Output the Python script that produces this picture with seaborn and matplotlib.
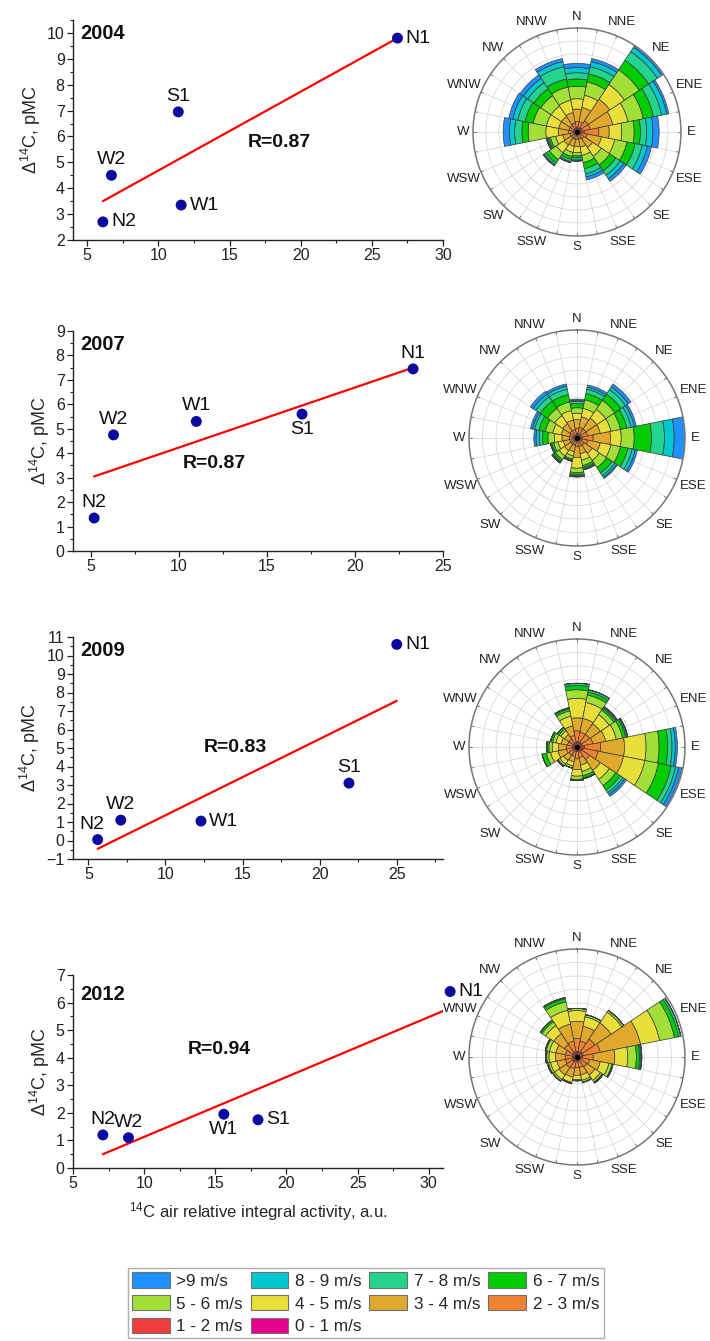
import numpy as np
import pandas as pd
import matplotlib
matplotlib.use("Agg")
import matplotlib.pyplot as plt
import seaborn as sns
from matplotlib.patches import Patch
from matplotlib.ticker import MultipleLocator

sns.set_theme(style="ticks")
plt.rcParams['font.family'] = ['Liberation Sans', 'DejaVu Sans']
plt.rcParams['mathtext.fontset'] = 'custom'
plt.rcParams['mathtext.rm'] = 'Liberation Sans'
plt.rcParams['mathtext.bf'] = 'Liberation Sans:bold'

# ---------------- scatter data ----------------
sites = ["N1", "N2", "W1", "W2", "S1"]
x2004 = [26.8, 6.1, 11.6, 6.7, 11.4]
y2004 = [9.8, 2.7, 3.35, 4.5, 6.95]
x2007 = [23.3, 5.2, 11.0, 6.3, 17.0]
y2007 = [7.45, 1.35, 5.3, 4.75, 5.6]
x2009 = [25.0, 5.6, 12.3, 7.1, 21.9]
y2009 = [10.6, 0.05, 1.05, 1.1, 3.1]
x2012 = [31.5, 7.1, 15.6, 8.9, 18.0]
y2012 = [6.4, 1.2, 1.95, 1.1, 1.75]

fit_x = {"2004": [6.1, 26.8], "2007": [5.2, 23.3], "2009": [5.6, 25.0], "2012": [7.1, 31.5]}
fit_y = {"2004": [3.5, 9.8], "2007": [3.05, 7.5], "2009": [-0.45, 7.55], "2012": [0.5, 5.8]}
r_text = {"2004": "R=0.87", "2007": "R=0.87", "2009": "R=0.83", "2012": "R=0.94"}

# ---------------- wind rose data ----------------
directions = ["N", "NNE", "NE", "ENE", "E", "ESE", "SE", "SSE",
              "S", "SSW", "SW", "WSW", "W", "WNW", "NW", "NNW"]
speed_bins = ["0 - 1 m/s", "1 - 2 m/s", "2 - 3 m/s", "3 - 4 m/s", "4 - 5 m/s",
              "5 - 6 m/s", "6 - 7 m/s", "7 - 8 m/s", "8 - 9 m/s", ">9 m/s"]
speed_colors = ["#E8008C", "#F03C3C", "#F08232", "#E0A92E", "#E8DF3A",
                "#A2E038", "#00CC00", "#22D48C", "#00C8D0", "#1E90FF"]

# rows: directions (N..NNW), columns: speed bins (0-1 .. >9), fraction of outer ring
rose2004 = [
    [0.01, 0.03, 0.06, 0.12, 0.10, 0.12, 0.07, 0.06, 0.05, 0.04],
    [0.01, 0.03, 0.06, 0.14, 0.12, 0.13, 0.08, 0.07, 0.05, 0.03],
    [0.01, 0.04, 0.08, 0.25, 0.17, 0.17, 0.11, 0.10, 0.05, 0.02],
    [0.01, 0.04, 0.08, 0.22, 0.15, 0.15, 0.10, 0.08, 0.05, 0.02],
    [0.01, 0.06, 0.14, 0.10, 0.12, 0.12, 0.06, 0.06, 0.06, 0.06],
    [0.01, 0.03, 0.06, 0.14, 0.13, 0.12, 0.08, 0.07, 0.05, 0.04],
    [0.01, 0.02, 0.05, 0.10, 0.10, 0.10, 0.07, 0.05, 0.04, 0.03],
    [0.01, 0.02, 0.04, 0.08, 0.08, 0.07, 0.06, 0.05, 0.03, 0.03],
    [0.01, 0.02, 0.04, 0.07, 0.06, 0.03, 0.02, 0.02, 0.01, 0.00],
    [0.01, 0.02, 0.04, 0.07, 0.06, 0.04, 0.03, 0.02, 0.01, 0.00],
    [0.01, 0.02, 0.04, 0.08, 0.09, 0.08, 0.04, 0.02, 0.01, 0.00],
    [0.01, 0.02, 0.04, 0.07, 0.07, 0.05, 0.02, 0.01, 0.01, 0.00],
    [0.01, 0.02, 0.05, 0.10, 0.12, 0.17, 0.06, 0.07, 0.05, 0.06],
    [0.01, 0.02, 0.05, 0.10, 0.12, 0.13, 0.08, 0.07, 0.05, 0.04],
    [0.01, 0.02, 0.05, 0.10, 0.12, 0.12, 0.08, 0.07, 0.05, 0.04],
    [0.01, 0.03, 0.05, 0.10, 0.12, 0.13, 0.08, 0.12, 0.05, 0.03],
]
rose2007 = [
    [0.01, 0.03, 0.05, 0.08, 0.06, 0.05, 0.04, 0.02, 0.01, 0.01],
    [0.01, 0.03, 0.06, 0.10, 0.08, 0.08, 0.06, 0.04, 0.02, 0.02],
    [0.01, 0.03, 0.06, 0.12, 0.10, 0.10, 0.07, 0.05, 0.03, 0.03],
    [0.01, 0.03, 0.06, 0.12, 0.10, 0.09, 0.06, 0.04, 0.03, 0.02],
    [0.01, 0.04, 0.10, 0.16, 0.10, 0.12, 0.16, 0.12, 0.09, 0.10],
    [0.01, 0.03, 0.06, 0.12, 0.10, 0.09, 0.07, 0.04, 0.03, 0.02],
    [0.01, 0.02, 0.05, 0.09, 0.08, 0.08, 0.06, 0.03, 0.02, 0.01],
    [0.01, 0.02, 0.05, 0.07, 0.06, 0.05, 0.02, 0.01, 0.01, 0.00],
    [0.01, 0.02, 0.05, 0.10, 0.10, 0.04, 0.02, 0.01, 0.01, 0.00],
    [0.01, 0.02, 0.04, 0.06, 0.04, 0.03, 0.01, 0.01, 0.00, 0.00],
    [0.01, 0.02, 0.04, 0.07, 0.06, 0.04, 0.02, 0.01, 0.01, 0.00],
    [0.01, 0.02, 0.04, 0.06, 0.05, 0.04, 0.02, 0.01, 0.00, 0.00],
    [0.01, 0.02, 0.04, 0.07, 0.07, 0.06, 0.05, 0.03, 0.03, 0.02],
    [0.01, 0.02, 0.04, 0.08, 0.08, 0.07, 0.06, 0.04, 0.02, 0.02],
    [0.01, 0.02, 0.05, 0.08, 0.09, 0.08, 0.08, 0.05, 0.03, 0.03],
    [0.01, 0.02, 0.05, 0.09, 0.09, 0.08, 0.07, 0.05, 0.03, 0.02],
]
rose2009 = [
    [0.01, 0.04, 0.10, 0.12, 0.18, 0.08, 0.04, 0.02, 0.00, 0.00],
    [0.01, 0.04, 0.09, 0.13, 0.15, 0.07, 0.03, 0.02, 0.00, 0.00],
    [0.01, 0.04, 0.09, 0.12, 0.10, 0.05, 0.02, 0.01, 0.01, 0.00],
    [0.01, 0.04, 0.10, 0.12, 0.10, 0.06, 0.03, 0.01, 0.01, 0.00],
    [0.01, 0.06, 0.15, 0.22, 0.20, 0.12, 0.08, 0.04, 0.03, 0.02],
    [0.01, 0.05, 0.14, 0.24, 0.20, 0.13, 0.12, 0.04, 0.03, 0.03],
    [0.01, 0.04, 0.09, 0.12, 0.10, 0.07, 0.05, 0.03, 0.02, 0.02],
    [0.01, 0.03, 0.06, 0.07, 0.06, 0.04, 0.02, 0.01, 0.00, 0.00],
    [0.01, 0.03, 0.07, 0.10, 0.06, 0.03, 0.01, 0.00, 0.00, 0.00],
    [0.01, 0.03, 0.05, 0.05, 0.04, 0.02, 0.00, 0.00, 0.00, 0.00],
    [0.01, 0.03, 0.05, 0.06, 0.04, 0.02, 0.01, 0.00, 0.00, 0.00],
    [0.01, 0.03, 0.06, 0.08, 0.07, 0.04, 0.04, 0.00, 0.00, 0.00],
    [0.01, 0.03, 0.06, 0.07, 0.06, 0.03, 0.02, 0.00, 0.00, 0.00],
    [0.01, 0.03, 0.05, 0.06, 0.05, 0.03, 0.02, 0.00, 0.00, 0.00],
    [0.01, 0.03, 0.05, 0.05, 0.04, 0.02, 0.02, 0.00, 0.00, 0.00],
    [0.01, 0.03, 0.07, 0.09, 0.09, 0.05, 0.02, 0.01, 0.00, 0.00],
]
rose2012 = [
    [0.01, 0.04, 0.12, 0.16, 0.10, 0.02, 0.00, 0.00, 0.00, 0.00],
    [0.01, 0.04, 0.10, 0.14, 0.09, 0.02, 0.00, 0.00, 0.00, 0.00],
    [0.01, 0.05, 0.14, 0.18, 0.12, 0.02, 0.00, 0.00, 0.00, 0.00],
    [0.01, 0.05, 0.16, 0.38, 0.18, 0.14, 0.04, 0.02, 0.00, 0.00],
    [0.01, 0.04, 0.10, 0.20, 0.12, 0.08, 0.03, 0.01, 0.01, 0.00],
    [0.01, 0.03, 0.08, 0.10, 0.08, 0.03, 0.01, 0.00, 0.00, 0.00],
    [0.01, 0.03, 0.07, 0.09, 0.06, 0.02, 0.01, 0.00, 0.00, 0.00],
    [0.01, 0.03, 0.06, 0.07, 0.05, 0.02, 0.00, 0.00, 0.00, 0.00],
    [0.01, 0.03, 0.06, 0.07, 0.04, 0.01, 0.00, 0.00, 0.00, 0.00],
    [0.01, 0.03, 0.07, 0.08, 0.05, 0.01, 0.00, 0.00, 0.00, 0.00],
    [0.01, 0.04, 0.07, 0.08, 0.05, 0.02, 0.00, 0.00, 0.00, 0.00],
    [0.01, 0.03, 0.07, 0.08, 0.06, 0.02, 0.01, 0.00, 0.00, 0.00],
    [0.01, 0.03, 0.07, 0.09, 0.06, 0.02, 0.01, 0.00, 0.00, 0.00],
    [0.01, 0.03, 0.07, 0.09, 0.06, 0.03, 0.01, 0.00, 0.00, 0.00],
    [0.01, 0.04, 0.09, 0.12, 0.09, 0.04, 0.02, 0.00, 0.00, 0.00],
    [0.01, 0.04, 0.10, 0.16, 0.13, 0.08, 0.03, 0.01, 0.00, 0.00],
]

years = ["2004", "2007", "2009", "2012"]
xs = [x2004, x2007, x2009, x2012]
ys = [y2004, y2007, y2009, y2012]
roses = [rose2004, rose2007, rose2009, rose2012]

# label placement per year (offset in points, ha, va)
R_ = (6, 0, "left", "center")
U_ = (0, 5, "center", "bottom")
D_ = (0, -5, "center", "top")
UL = (-4, 5, "center", "bottom")
label_pos = {
    "2004": {"N1": R_, "N2": R_, "W1": R_, "W2": U_, "S1": U_},
    "2007": {"N1": U_, "N2": U_, "W1": U_, "W2": U_, "S1": D_},
    "2009": {"N1": R_, "N2": UL, "W1": R_, "W2": U_, "S1": U_},
    "2012": {"N1": R_, "N2": U_, "W1": D_, "W2": U_, "S1": R_},
}
xlims = {"2004": (4, 30), "2007": (4, 25), "2009": (4, 28), "2012": (5, 31)}
ylims = {"2004": (2, 10.5), "2007": (0, 9), "2009": (-1, 11), "2012": (0, 7)}
r_pos = {"2004": (18.5, 5.75), "2007": (12.0, 3.6), "2009": (14.55, 5.0), "2012": (15.3, 4.3)}

W, H = 710, 1341
fig = plt.figure(figsize=(W / 100, H / 100), dpi=100)

def fx(px):
    return px / W

def fy(py):
    return 1 - py / H

scatter_boxes = [(20, 240), (331, 551), (637, 859), (975, 1168)]
rose_centers = [132, 438, 747, 1057]
rose_radii = [104, 108, 108, 108]
rose_cx = 577

point_color = "#0A0A9E"

for i, yr in enumerate(years):
    top, bot = scatter_boxes[i]
    ax = fig.add_axes([fx(73), fy(bot), fx(443) - fx(73), (bot - top) / H])
    df = pd.DataFrame({"x": xs[i], "y": ys[i], "site": sites})
    sns.lineplot(x=fit_x[yr], y=fit_y[yr], ax=ax, color="#FF0000", lw=1.6, zorder=2)
    sns.scatterplot(data=df, x="x", y="y", ax=ax, color=point_color, s=62,
                    edgecolor="none", zorder=3, clip_on=False)
    for _, row in df.iterrows():
        dx, dy, ha, va = label_pos[yr][row["site"]]
        ax.annotate(row["site"], (row["x"], row["y"]), xytext=(dx, dy),
                    textcoords="offset points", ha=ha, va=va, fontsize=14,
                    color="#111111", annotation_clip=False)
    ax.text(r_pos[yr][0], r_pos[yr][1], r_text[yr], fontsize=14, fontweight="bold",
            ha="center", va="center", color="#111111")
    ax.text(0.02, 0.94 if i < 3 else 0.9, yr, transform=ax.transAxes, fontsize=14.5,
            fontweight="bold", ha="left", va="center", color="#111111")
    ax.set_xlim(*xlims[yr])
    ax.set_ylim(*ylims[yr])
    ax.xaxis.set_major_locator(MultipleLocator(5))
    ax.xaxis.set_minor_locator(MultipleLocator(2.5))
    ax.yaxis.set_major_locator(MultipleLocator(1))
    ax.yaxis.set_minor_locator(MultipleLocator(0.5))
    sns.despine(ax=ax)
    for sp in ["left", "bottom"]:
        ax.spines[sp].set_color("#222222")
        ax.spines[sp].set_linewidth(1.0)
    ax.tick_params(axis="both", which="major", labelsize=11.5, length=4, width=0.9,
                   colors="#222222", direction="out", pad=2)
    ax.tick_params(axis="both", which="minor", length=2.5, width=0.8, colors="#222222")
    ax.set_ylabel("Δ$\\mathregular{^{14}}$C, pMC", fontsize=13, labelpad=3)
    if i == 3:
        ax.set_xlabel("$\\mathregular{^{14}}$C air relative integral activity, a.u.",
                      fontsize=12, labelpad=6)
    else:
        ax.set_xlabel("")

    # ---------- wind rose ----------
    cy = rose_centers[i]
    rr_px = rose_radii[i]
    pax = fig.add_axes([fx(rose_cx - rr_px), fy(cy + rr_px), 2 * rr_px / W, 2 * rr_px / H],
                       projection="polar")
    pax.set_theta_zero_location("N")
    pax.set_theta_direction(-1)
    pax.axis("off")
    pax.set_ylim(0, 1.0)
    tt = np.linspace(0, 2 * np.pi, 361)
    for rr in np.arange(1, 8) / 8:
        pax.plot(tt, np.full_like(tt, rr), color="#dadada", lw=0.6, zorder=1)
    for a in np.arange(32) * 11.25:
        pax.plot([0, np.deg2rad(a)], [0, 1.0], color="#dadada", lw=0.6, zorder=1)
        pax.plot([np.deg2rad(a), np.deg2rad(a)], [0.975, 1.0], color="#777777", lw=0.7,
                 zorder=4)
    pax.plot(tt, np.ones_like(tt), color="#777777", lw=1.1, zorder=4, clip_on=False)

    theta = np.deg2rad(np.arange(16) * 22.5)
    width = np.deg2rad(22.5)
    data = np.array(roses[i])
    bottom = np.zeros(16)
    for k in range(10):
        vals = data[:, k]
        pax.bar(theta, vals, width=width, bottom=bottom, color=speed_colors[k],
                edgecolor="#3a3a3a", linewidth=0.5, zorder=3, align="center")
        bottom = bottom + vals
    pax.plot([0], [0], marker="o", color="black", ms=2.5, zorder=5)
    for j, d in enumerate(directions):
        half_w = len(d) * 3.6
        ext = half_w * abs(np.sin(theta[j])) + 4.5 * abs(np.cos(theta[j]))
        r_lab = 1.06 + ext / rr_px
        pax.text(theta[j], r_lab, d, fontsize=9.5, ha="center", va="center",
                 color="#222222", clip_on=False)

# ---------------- legend ----------------
order = [9, 5, 1, 8, 4, 0, 7, 3, 6, 2]
handles = [Patch(facecolor=speed_colors[k], edgecolor="#707070", linewidth=0.8) for k in order]
labels = [speed_bins[k] for k in order]
leg = fig.legend(handles, labels, ncol=4, loc="lower center", bbox_to_anchor=(0.515, 0.0),
                 fontsize=12.3, frameon=True, fancybox=False, edgecolor="#9a9a9a",
                 handlelength=2.2, handleheight=1.0, handletextpad=0.4,
                 columnspacing=0.45, labelspacing=0.36, borderpad=0.25, borderaxespad=0.15)
leg.get_frame().set_linewidth(1.0)

fig.savefig("out.png", dpi=100)
